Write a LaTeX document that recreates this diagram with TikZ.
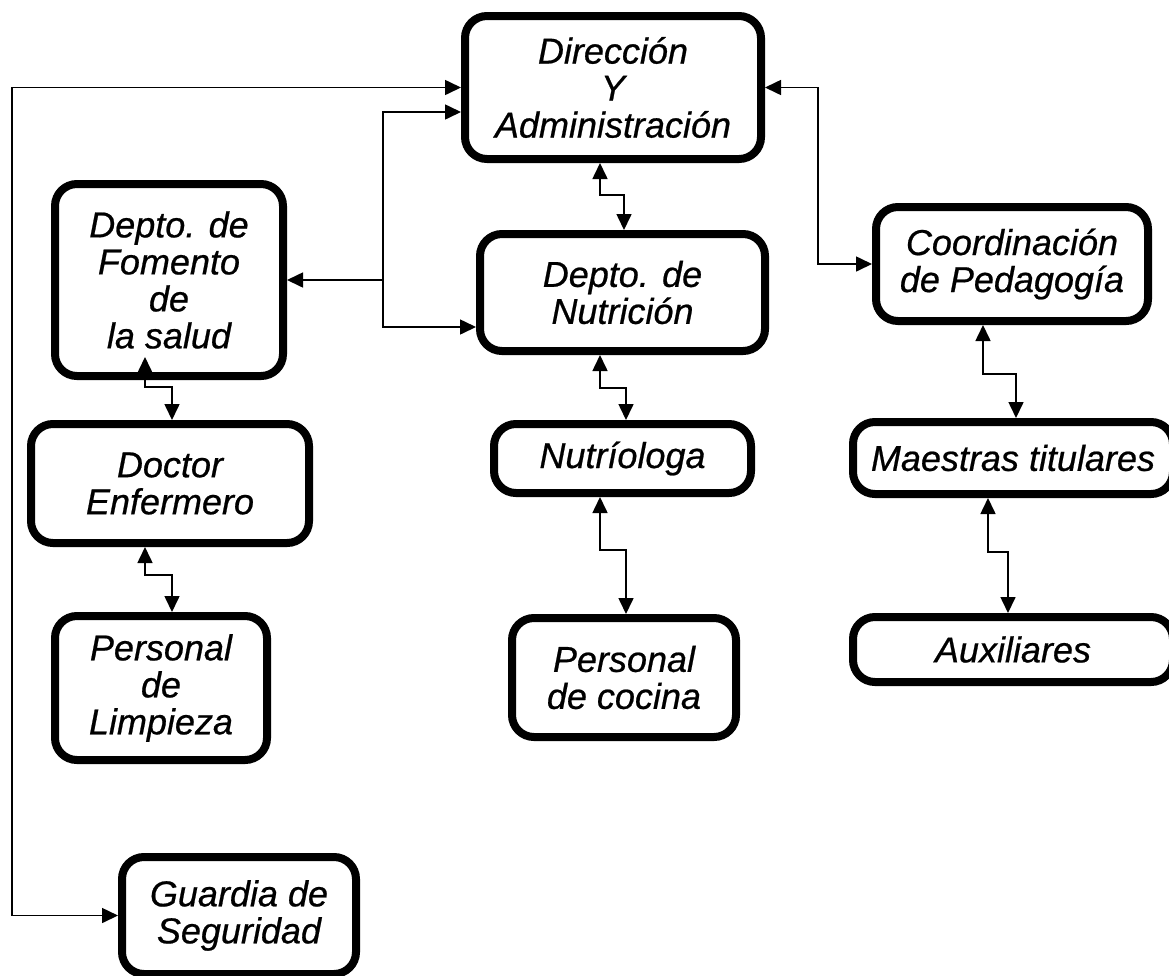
\documentclass[tikz,border=0pt]{standalone}
\usepackage{fontspec}
\setmainfont{Liberation Sans}[ItalicFeatures={FakeBold=0.6}]
\usetikzlibrary{arrows.meta}
\begin{document}
\begin{tikzpicture}[x=1pt,y=-1pt,
  box/.style={draw, line width=8pt, rounded corners=22pt, align=center, inner sep=0pt,
    font=\fontsize{36}{37}\selectfont\itshape},
  conn/.style={line width=1.6pt, {Triangle[length=16pt,width=15pt]}-{Triangle[length=16pt,width=15pt]}},
  one/.style={line width=1.6pt, -{Triangle[length=16pt,width=15pt]}}]
\clip (0,0) rectangle (1169,975);
\fill[white] (0,0) rectangle (1169,975);

\node[box, minimum width=296pt, minimum height=143pt] (dir) at (613,87.5) {Dirección\\Y\\Administración};
\node[box, minimum width=228pt, minimum height=192pt] (fom) at (169,280) {Depto. de\\Fomento\\de\\la salud};
\node[box, minimum width=285pt, minimum height=117pt] (nut) at (622.5,292.5) {Depto. de\\Nutrición};
\node[box, minimum width=272pt, minimum height=114pt] (coord) at (1012,264) {Coordinación\\de Pedagogía};
\node[box, minimum width=278pt, minimum height=119pt] (doc) at (170,483.5) {Doctor\\Enfermero};
\node[box, minimum width=212pt, minimum height=144pt] (lim) at (161,688) {Personal\\de\\Limpieza};
\node[box, minimum width=257pt, minimum height=69pt] (nuo) at (622.5,458.5) {Nutríologa};
\node[box, minimum width=224pt, minimum height=119pt] (coc) at (624,677.5) {Personal\\de cocina};
\node[box, minimum width=320pt, minimum height=72pt] (mae) at (1013,458) {Maestras titulares};
\node[box, minimum width=320pt, minimum height=65pt] (aux) at (1013,649.5) {Auxiliares};
\node[box, minimum width=234pt, minimum height=117pt] (gua) at (239,915.5) {Guardia de\\Seguridad};

\coordinate (xL) at (12,0);
\coordinate (xJ) at (383,0);
\coordinate (xR) at (818,0);
\coordinate (dA) at ([yshift=-24.5pt]dir.west);
\coordinate (nA) at ([yshift=-34.5pt]nut.west);

% left long connector
\draw[conn] (dir.west) -- (dir.west -| xL) |- (gua.west);
% junction to Direccion, Fomento, Nutricion
\draw[one] (fom.east -| xJ) -- (fom.east);
\draw[one] (fom.east -| xJ) |- (dA);
\draw[one] (fom.east -| xJ) |- (nA);
% right connector
\draw[conn] (dir.east) -- (dir.east -| xR) |- (coord.west);

% stepped vertical connectors
\draw[conn] ([xshift=-13pt]dir.south) -- ++(0,32) -| ([xshift=1.5pt]nut.north);
\draw[conn] ([xshift=-24pt,yshift=23pt]fom.south) -- ++(0,30) -| ([xshift=2pt]doc.north);
\draw[conn] ([xshift=-25pt]doc.south) -- ++(0,28) -| ([xshift=11pt]lim.north);
\draw[conn] ([xshift=-22.5pt]nut.south) -- ++(0,33) -| ([xshift=3.5pt]nuo.north);
\draw[conn] ([xshift=-22.5pt]nuo.south) -- ++(0,53) -| ([xshift=2pt]coc.north);
\draw[conn] ([xshift=-29pt]coord.south) -- ++(0,49) -| ([xshift=3pt]mae.north);
\draw[conn] ([xshift=-25pt]mae.south) -- ++(0,54) -| ([xshift=-5pt]aux.north);
\end{tikzpicture}
\end{document}
